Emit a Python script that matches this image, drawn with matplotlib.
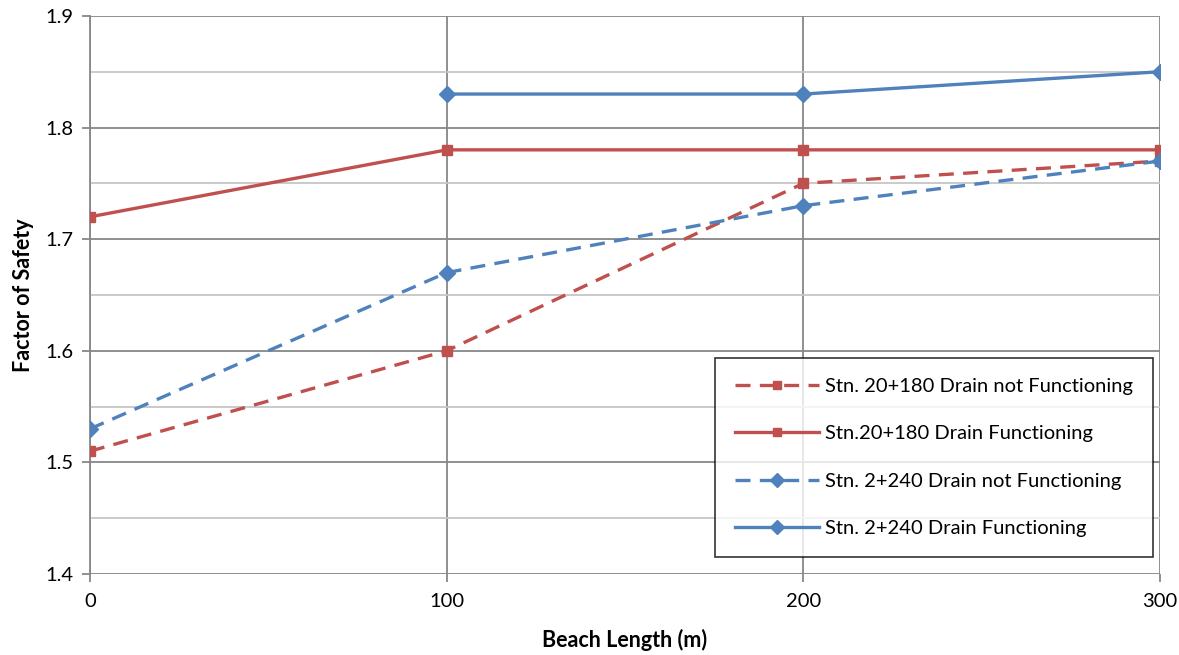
import matplotlib.pyplot as plt
from matplotlib.ticker import MultipleLocator

# ================= DATA =================
beach_length = [0, 100, 200, 300]
stn20_not_func = [1.51, 1.60, 1.75, 1.77]
stn20_func = [1.72, 1.78, 1.78, 1.78]
stn2_not_func = [1.53, 1.67, 1.73, 1.77]
stn2_func_x = [100, 200, 300]
stn2_func = [1.83, 1.83, 1.85]

labels = [
    "Stn. 20+180 Drain not Functioning",
    "Stn.20+180 Drain Functioning",
    "Stn. 2+240 Drain not Functioning",
    "Stn. 2+240 Drain Functioning",
]

RED = "#C0504D"
BLUE = "#4F81BD"

plt.rcParams["font.family"] = ["Lato", "DejaVu Sans"]

# ================= PLOT =================
fig = plt.figure(figsize=(11.79, 6.55), dpi=100)
ax = fig.add_axes([0.0763, 0.1237, 0.9077, 0.852])

lw = 2.4
ax.plot(beach_length, stn20_not_func, color=RED, lw=lw, dashes=(4.5, 2.8),
        marker="s", ms=7, label=labels[0], zorder=3)
ax.plot(beach_length, stn20_func, color=RED, lw=lw,
        marker="s", ms=7, label=labels[1], zorder=3)
ax.plot(beach_length, stn2_not_func, color=BLUE, lw=lw, dashes=(4.5, 2.8),
        marker="D", ms=8.5, label=labels[2], zorder=3)
ax.plot(stn2_func_x, stn2_func, color=BLUE, lw=lw,
        marker="D", ms=8.5, label=labels[3], zorder=3)

ax.set_xlim(0, 300)
ax.set_ylim(1.4, 1.9)
ax.xaxis.set_major_locator(MultipleLocator(100))
ax.yaxis.set_major_locator(MultipleLocator(0.1))
ax.yaxis.set_minor_locator(MultipleLocator(0.05))
ax.set_yticklabels([f"{v:.1f}" for v in ax.get_yticks()])

ax.grid(which="major", axis="both", color="#878787", lw=1.3)
ax.grid(which="minor", axis="y", color="#c6c6c6", lw=1.3)
ax.set_axisbelow(True)

for side in ["top", "right", "bottom"]:
    ax.spines[side].set_visible(False)
ax.spines["left"].set_color("#878787")
ax.spines["left"].set_linewidth(1.3)

ax.tick_params(axis="both", which="major", length=6, width=1.3, color="#878787",
               labelsize=14.5, pad=6)
ax.tick_params(axis="x", which="major", pad=8)
ax.tick_params(axis="y", which="minor", length=0)

ax.set_xlabel("Beach Length (m)", fontsize=15.5, fontweight="bold", labelpad=13)
ax.set_ylabel("Factor of Safety", fontsize=15.5, fontweight="bold", labelpad=8)

leg = ax.legend(loc="lower right", bbox_to_anchor=(0.993, 0.03), fontsize=14.5,
                frameon=True, fancybox=False, handlelength=4.2, labelspacing=1.5,
                borderpad=1.0, handletextpad=0.25, borderaxespad=0, markerscale=0.8)
leg.get_frame().set_edgecolor("black")
leg.get_frame().set_linewidth(1.2)

fig.savefig("out.png", dpi=100)
